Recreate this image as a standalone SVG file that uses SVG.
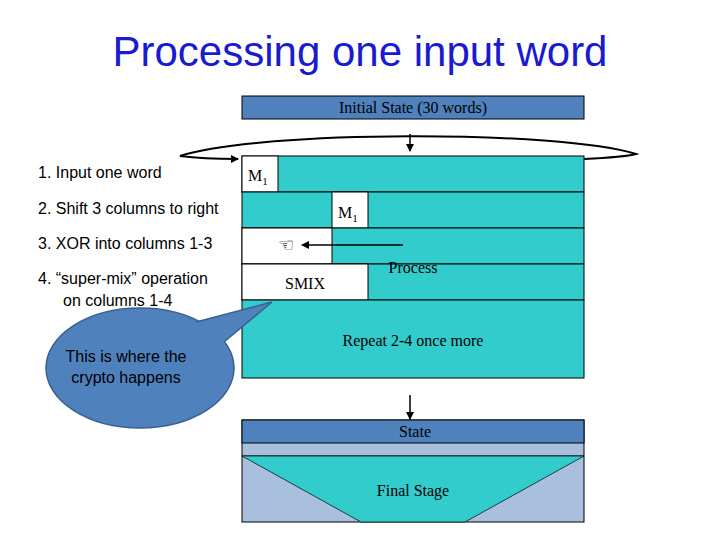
<svg xmlns="http://www.w3.org/2000/svg" width="720" height="540" viewBox="0 0 720 540">
<style>
.s{font-family:"Liberation Sans",Arial,sans-serif;font-size:16px;fill:#000}
.t{font-family:"Liberation Serif","Times New Roman",serif;font-size:16px;fill:#000}
.c{fill:#33cccc;stroke:#000;stroke-width:1}
.w{fill:#fff;stroke:#000;stroke-width:1}
</style>
<defs><marker id="a" markerWidth="8" markerHeight="8" refX="7" refY="4" orient="auto" markerUnits="userSpaceOnUse"><path d="M0,0L8,4L0,8z" fill="#000"/></marker></defs>
<rect width="720" height="540" fill="#fff"/>
<text x="360" y="66" text-anchor="middle" style="font-family:'Liberation Sans',Arial,sans-serif;font-size:42px;fill:#1a1ad0">Processing one input word</text>
<g id="init"><rect x="242" y="96" width="342" height="23" fill="#4f81bd" stroke="#000"/><text class="t" x="413" y="113" text-anchor="middle" fill="#000033">Initial State (30 words)</text></g>
<g id="labels">
<text class="s" x="38" y="178">1. Input one word</text>
<text class="s" x="38" y="214">2. Shift 3 columns to right</text>
<text class="s" x="38" y="249">3. XOR into columns 1-3</text>
<text class="s" x="38" y="284">4. “super-mix” operation</text>
<text class="s" x="63" y="306">on columns 1-4</text>
</g>
<g id="block">
<rect class="c" x="242" y="156" width="342" height="36"/>
<rect class="w" x="242" y="156" width="36" height="36"/>
<text class="t" x="248" y="181">M<tspan font-size="11" dy="4">1</tspan></text>
<rect class="c" x="242" y="192" width="342" height="36"/>
<rect class="w" x="332" y="192" width="36" height="36"/>
<text class="t" x="338" y="218">M<tspan font-size="11" dy="4">1</tspan></text>
<rect class="c" x="242" y="228" width="342" height="36"/>
<rect class="w" x="242" y="228" width="90" height="36"/>
<text x="278" y="251" style="font-family:'DejaVu Sans',sans-serif;font-size:18px">☜</text>
<rect class="c" x="242" y="264" width="342" height="36"/>
<rect class="w" x="242" y="264" width="126" height="36"/>
<text class="t" x="305" y="289" text-anchor="middle">SMIX</text>
<text class="t" x="413" y="273" text-anchor="middle">Process</text>
<rect class="c" x="242" y="300" width="342" height="78"/>
<text class="t" x="413" y="346" text-anchor="middle">Repeat 2-4 once more</text>
</g>
<g id="final">
<rect x="242" y="420" width="342" height="102" fill="#a8c0de" stroke="#000"/>
<rect x="242" y="420" width="342" height="23" fill="#4f81bd" stroke="#000"/>
<line x1="242" y1="456" x2="584" y2="456" stroke="#000"/>
<path d="M242,456L584,456L465,522L361,522z" fill="#33cccc" stroke="#000" stroke-width="0.7"/>
<text class="t" x="415" y="437" text-anchor="middle" fill="#000033">State</text>
<text class="t" x="413" y="496" text-anchor="middle">Final Stage</text>
</g>
<g id="callout">
<ellipse cx="140" cy="368" rx="94" ry="60" fill="#4f81bd" stroke="#3a6090" stroke-width="1.5"/>
<path d="M196,322 L272,302 L224,342 Z" fill="#4f81bd"/>
<path d="M196,322 L272,302 L224,342" fill="none" stroke="#3a6090" stroke-width="1.5"/>
<text class="s" x="126" y="362" text-anchor="middle">This is where the</text>
<text class="s" x="126" y="383" text-anchor="middle">crypto happens</text>
</g>
<g id="connectors" fill="none" stroke="#000" stroke-width="2">
<path d="M584,159 C605,158 625,157 636,154 C560,130 260,130 180,156 C195,158 215,159 238,159" marker-end="url(#a)"/>
<line x1="410" y1="134" x2="410" y2="151" stroke-width="1.5" marker-end="url(#a)"/>
<line x1="403" y1="245" x2="302" y2="245" stroke-width="1.5" marker-end="url(#a)"/>
<line x1="410" y1="395" x2="410" y2="419" stroke-width="1.5" marker-end="url(#a)"/>
</g>
</svg>
